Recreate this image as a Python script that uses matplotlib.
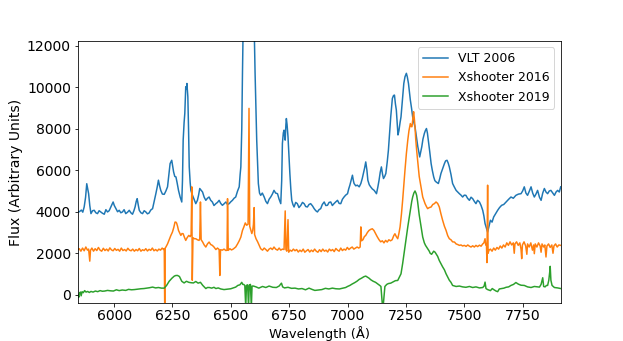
import numpy as np
import matplotlib
matplotlib.use("Agg")
import matplotlib.pyplot as plt

# VLT 2006
wl_vlt = [5845, 5851, 5860, 5866, 5872, 5878, 5883, 5887, 5891, 5896, 5901, 5908, 5915, 5922, 5929, 5936, 5943, 5950,
          5958, 5965, 5972, 5979, 5986, 5991, 5996, 6001, 6008, 6015, 6022, 6029, 6036, 6043, 6050, 6058, 6065, 6072,
          6079, 6085, 6090, 6095, 6099, 6104, 6108, 6115, 6122, 6129, 6136, 6143, 6150, 6157, 6165, 6172, 6179, 6185,
          6190, 6195, 6200, 6207, 6215, 6222, 6229, 6235, 6240, 6247, 6251, 6255, 6260, 6265, 6270, 6276, 6283, 6290,
          6293, 6296, 6300, 6303, 6307, 6310, 6312, 6316, 6319, 6322, 6326, 6329, 6334, 6339, 6345, 6350, 6357, 6362,
          6367, 6372, 6379, 6386, 6393, 6400, 6407, 6414, 6421, 6428, 6436, 6443, 6450, 6457, 6464, 6471, 6479, 6486,
          6493, 6500, 6507, 6514, 6521, 6529, 6536, 6540, 6543, 6547, 6550, 6554, 6560, 6570, 6580, 6590, 6600, 6604,
          6608, 6611, 6615, 6618, 6623, 6628, 6635, 6643, 6650, 6657, 6664, 6671, 6678, 6685, 6692, 6700, 6707, 6714,
          6718, 6721, 6725, 6728, 6731, 6733, 6736, 6738, 6741, 6745, 6749, 6753, 6757, 6761, 6766, 6771, 6778, 6785,
          6792, 6800, 6807, 6814, 6821, 6828, 6835, 6842, 6850, 6857, 6864, 6871, 6878, 6885, 6892, 6900, 6907, 6914,
          6921, 6928, 6935, 6942, 6950, 6957, 6964, 6971, 6978, 6985, 6992, 7000, 7005, 7010, 7015, 7021, 7025, 7028,
          7035, 7042, 7050, 7057, 7063, 7068, 7073, 7078, 7083, 7087, 7093, 7099, 7106, 7114, 7119, 7124, 7130, 7135,
          7140, 7145, 7150, 7154, 7159, 7164, 7170, 7175, 7180, 7185, 7189, 7192, 7197, 7201, 7205, 7209, 7213, 7216,
          7220, 7225, 7229, 7235, 7241, 7246, 7252, 7256, 7261, 7265, 7269, 7274, 7279, 7284, 7289, 7295, 7301, 7305,
          7309, 7314, 7318, 7323, 7329, 7333, 7338, 7342, 7346, 7352, 7358, 7363, 7369, 7374, 7379, 7384, 7389, 7395,
          7400, 7408, 7415, 7420, 7426, 7431, 7436, 7443, 7450, 7457, 7465, 7472, 7479, 7486, 7493, 7500, 7507, 7514,
          7522, 7529, 7536, 7543, 7550, 7557, 7565, 7572, 7579, 7584, 7589, 7594, 7600, 7606, 7612, 7619, 7626, 7634,
          7643, 7651, 7660, 7669, 7679, 7690, 7700, 7710, 7721, 7732, 7743, 7750, 7757, 7764, 7771, 7779, 7786, 7793,
          7800, 7807, 7814, 7822, 7829, 7836, 7843, 7850, 7857, 7864, 7871, 7879, 7886, 7893, 7900, 7907, 7913]
fx_vlt = [4000, 4000, 4080, 3980, 4230, 4700, 5350, 5100, 4870, 4300, 3910, 4050, 4070, 3950, 3910, 4050, 3990, 3930,
          3880, 4100, 3990, 4050, 4230, 4350, 4470, 4300, 4150, 4000, 4070, 3950, 3990, 4100, 3910, 3980, 4070, 3950,
          3880, 4050, 4230, 4500, 4630, 4300, 4070, 3950, 3910, 4050, 3990, 3900, 3940, 4080, 4150, 4500, 4870, 5200,
          5520, 5250, 5030, 4850, 4840, 5000, 5200, 5800, 6320, 6480, 6200, 5920, 5700, 5680, 5400, 5030, 4710, 4470,
          5500, 7450, 8300, 8740, 10020, 9900, 10180, 9540, 8000, 6160, 5400, 5030, 4850, 4710, 4550, 4390, 4550, 4800,
          5120, 5050, 4950, 4700, 4550, 4650, 4710, 4550, 4470, 4300, 4390, 4450, 4550, 4400, 4310, 4380, 4470, 4350,
          4390, 4480, 4550, 4650, 4710, 5000, 5200, 5800, 6160, 8000, 10670, 13500, 20000, 25000, 20000, 15000, 13000, 10670,
          8800, 7450, 6200, 5360, 4900, 4790, 4900, 4710, 4500, 4390, 4600, 4710, 4850, 5030, 4900, 4870, 4600, 4390,
          5500, 7290, 7800, 7930, 7600, 7450, 8200, 8490, 8200, 7610, 6700, 5840, 5100, 4550, 4350, 4230, 4450, 4390,
          4200, 4310, 4450, 4390, 4250, 4230, 4350, 4390, 4280, 4150, 4050, 3990, 4100, 4150, 4350, 4470, 4300, 4310,
          4450, 4470, 4300, 4390, 4480, 4550, 4400, 4390, 4600, 4710, 4800, 4870, 5100, 5280, 5500, 5760, 5500, 5360,
          5250, 5280, 5200, 5360, 5600, 5840, 6100, 6400, 6000, 5520, 5300, 5200, 5100, 5030, 4950, 4870, 5200, 5520,
          5900, 6160, 5800, 5600, 5700, 5840, 6400, 6960, 7800, 8570, 9100, 9460, 9600, 9620, 9200, 8900, 8200, 7700,
          7900, 8300, 8570, 9400, 10180, 10500, 10670, 10500, 10180, 9800, 9380, 9000, 8570, 8300, 8090, 7600, 7130, 6900,
          6640, 6900, 7130, 7500, 7770, 7900, 8010, 7800, 7450, 6900, 6320, 6000, 5680, 5500, 5440, 5400, 5360, 5600,
          5840, 6100, 6320, 6450, 6480, 6350, 6160, 5800, 5360, 5200, 5030, 4950, 4870, 4800, 4710, 4800, 4790, 4650,
          4550, 4700, 4630, 4500, 4390, 4550, 4470, 4300, 4070, 3800, 3430, 3250, 3020, 3300, 3590, 3500, 3750, 3900,
          4070, 4200, 4310, 4350, 4470, 4600, 4710, 4650, 4790, 4850, 4870, 5000, 5200, 4900, 4790, 5000, 5200, 4900,
          4710, 4850, 5030, 4700, 4550, 4900, 5120, 4950, 4870, 5000, 5030, 4900, 4790, 4950, 5030, 4950, 5200]

# Xshooter 2016
wl_x16 = [5845, 5851, 5858, 5865, 5872, 5879, 5886, 5891, 5896, 5899, 5905, 5912, 5919, 5926, 5933, 5940, 5947, 5954,
          5961, 5968, 5975, 5982, 5989, 5996, 6003, 6010, 6017, 6024, 6031, 6038, 6045, 6052, 6059, 6066, 6073, 6080,
          6087, 6094, 6101, 6108, 6115, 6122, 6129, 6136, 6143, 6150, 6157, 6164, 6171, 6178, 6185, 6192, 6199, 6206,
          6212, 6215, 6217, 6219, 6222, 6229, 6236, 6243, 6250, 6256, 6261, 6265, 6268, 6272, 6276, 6282, 6286, 6291,
          6296, 6301, 6307, 6313, 6320, 6326, 6330, 6333, 6335, 6338, 6344, 6350, 6357, 6364, 6367, 6370, 6373, 6379,
          6386, 6393, 6400, 6407, 6414, 6421, 6428, 6436, 6443, 6450, 6453, 6456, 6464, 6471, 6479, 6484, 6486, 6489,
          6496, 6503, 6510, 6517, 6521, 6529, 6536, 6543, 6550, 6556, 6562, 6568, 6574, 6578, 6581, 6586, 6590, 6594,
          6597, 6600, 6602, 6608, 6615, 6621, 6628, 6636, 6643, 6650, 6657, 6664, 6671, 6678, 6685, 6692, 6700, 6707,
          6714, 6721, 6728, 6733, 6736, 6740, 6745, 6748, 6754, 6761, 6768, 6775, 6782, 6789, 6796, 6803, 6810, 6817,
          6824, 6831, 6838, 6845, 6852, 6859, 6866, 6873, 6880, 6887, 6894, 6901, 6908, 6915, 6922, 6929, 6936, 6943,
          6950, 6957, 6964, 6971, 6978, 6985, 6992, 6999, 7006, 7013, 7020, 7027, 7034, 7041, 7048, 7054, 7057, 7060,
          7066, 7072, 7078, 7085, 7092, 7099, 7106, 7113, 7120, 7127, 7135, 7142, 7149, 7156, 7163, 7170, 7177, 7184,
          7191, 7198, 7203, 7209, 7215, 7220, 7225, 7231, 7236, 7241, 7246, 7252, 7258, 7263, 7269, 7273, 7276, 7280,
          7283, 7286, 7289, 7292, 7296, 7300, 7303, 7307, 7312, 7318, 7322, 7327, 7332, 7338, 7343, 7350, 7358, 7365,
          7372, 7379, 7386, 7393, 7400, 7407, 7415, 7422, 7429, 7436, 7443, 7450, 7458, 7465, 7472, 7479, 7486, 7493,
          7500, 7508, 7515, 7522, 7529, 7536, 7543, 7550, 7557, 7565, 7572, 7579, 7584, 7589, 7592, 7595, 7597, 7600,
          7602, 7606, 7612, 7619, 7626, 7633, 7640, 7647, 7654, 7661, 7668, 7675, 7682, 7689, 7696, 7703, 7710, 7714,
          7717, 7724, 7731, 7738, 7743, 7746, 7749, 7756, 7763, 7768, 7771, 7778, 7785, 7792, 7797, 7800, 7804, 7811,
          7818, 7825, 7829, 7833, 7840, 7845, 7850, 7854, 7861, 7868, 7875, 7880, 7884, 7891, 7898, 7905, 7913]
fx_x16 = [2180, 2220, 2100, 2250, 2120, 2300, 2150, 2200, 1620, 2140, 2250, 2100, 2220, 2130, 2280, 2150, 2100, 2240,
          2130, 2200, 2110, 2260, 2160, 2120, 2230, 2140, 2190, 2100, 2250, 2130, 2180, 2110, 2240, 2150, 2120, 2200,
          2100, 2180, 2120, 2230, 2100, 2170, 2130, 2220, 2110, 2190, 2140, 2250, 2120, 2180, 2110, 2200, 2150, 2250,
          2180, 2220, -800, 2250, 2300, 2450, 2650, 2850, 3020, 3250, 3500, 3500, 3450, 3300, 3100, 2950, 2860, 2950,
          2940, 2780, 2620, 2750, 2860, 2800, 2900, 5200, 700, 2750, 2700, 2700, 2650, 2620, 2700, 4470, 2650, 2550,
          2400, 2300, 2450, 2540, 2420, 2380, 2300, 2180, 2250, 2180, 930, 2170, 2150, 2200, 2130, 2150, 4630, 2140,
          2220, 2160, 2200, 2260, 2300, 2450, 2600, 2780, 3100, 3270, 3460, 3350, 3400, 8980, 3300, 3100, 2950, 3100,
          3400, 4200, 2900, 2700, 2550, 2400, 2220, 2150, 2250, 2180, 2100, 2200, 2250, 2180, 2300, 2200, 2150, 2250,
          2150, 2200, 2180, 4040, 2180, 2100, 3620, 2050, 2150, 2100, 2200, 2120, 2180, 2060, 2150, 2080, 2200, 2050,
          2120, 2180, 2060, 2150, 2080, 2200, 2100, 2050, 2170, 2080, 2200, 2100, 2150, 2060, 2200, 2120, 2180, 2080,
          2230, 2150, 2100, 2250, 2130, 2200, 2150, 2280, 2180, 2250, 2300, 2200, 2250, 2300, 2250, 2300, 3270, 2600,
          2650, 2800, 2860, 3000, 3100, 3150, 3180, 3100, 2950, 2800, 2650, 2550, 2600, 2500, 2620, 2540, 2650, 2600,
          2650, 2850, 2940, 2800, 2700, 2950, 3270, 3900, 4550, 5300, 6000, 6800, 7450, 7900, 8250, 8100, 8100, 8500,
          8820, 8500, 8090, 7500, 6960, 6500, 6160, 5700, 5360, 4950, 4710, 4550, 4390, 4250, 4150, 4200, 4230, 4350,
          4390, 4470, 4400, 4230, 3900, 3600, 3300, 3100, 2850, 2700, 2650, 2550, 2540, 2450, 2420, 2380, 2400, 2350,
          2380, 2330, 2400, 2340, 2300, 2360, 2300, 2380, 2320, 2390, 2340, 2450, 2500, 2700, 2400, 2420, 1550, 5280,
          2000, 2150, 2200, 2100, 2250, 2150, 2280, 2200, 2350, 2250, 2400, 2300, 2500, 2380, 2550, 2400, 2500, 2000,
          2450, 2550, 2380, 2500, 2200, 1740, 2400, 2550, 2350, 1950, 2450, 2300, 2500, 2150, 2400, 1980, 2450, 2300,
          2500, 2350, 2050, 2450, 2300, 2400, 1820, 2350, 2450, 2280, 2400, 2000, 2350, 2450, 2300, 2400, 2380]

# Xshooter 2019
wl_x19 = [5845, 5849, 5852, 5856, 5859, 5863, 5868, 5874, 5880, 5887, 5894, 5901, 5910, 5920, 5930, 5940, 5950, 5960,
          5972, 5985, 5997, 6010, 6022, 6035, 6050, 6062, 6075, 6087, 6100, 6115, 6128, 6140, 6152, 6165, 6178, 6190,
          6203, 6215, 6225, 6236, 6248, 6258, 6265, 6272, 6280, 6290, 6300, 6310, 6320, 6330, 6340, 6350, 6360, 6370,
          6380, 6393, 6400, 6408, 6418, 6428, 6436, 6446, 6457, 6471, 6486, 6500, 6510, 6521, 6530, 6539, 6547, 6551,
          6555, 6560, 6564, 6567, 6572, 6576, 6579, 6584, 6588, 6591, 6597, 6608, 6620, 6636, 6650, 6664, 6680, 6695,
          6707, 6717, 6722, 6730, 6745, 6760, 6775, 6790, 6805, 6820, 6835, 6850, 6860, 6875, 6890, 6905, 6920, 6935,
          6950, 6965, 6980, 6992, 7000, 7010, 7020, 7030, 7040, 7050, 7060, 7070, 7078, 7085, 7092, 7100, 7110, 7120,
          7130, 7138, 7143, 7147, 7150, 7153, 7156, 7160, 7168, 7175, 7185, 7195, 7205, 7215, 7222, 7229, 7236, 7244,
          7251, 7258, 7264, 7269, 7275, 7279, 7284, 7289, 7293, 7296, 7300, 7303, 7307, 7312, 7318, 7322, 7329, 7334,
          7343, 7350, 7354, 7360, 7369, 7375, 7379, 7386, 7393, 7400, 7407, 7415, 7422, 7429, 7436, 7443, 7450, 7465,
          7479, 7493, 7507, 7522, 7536, 7550, 7565, 7579, 7585, 7589, 7593, 7600, 7612, 7620, 7626, 7636, 7643, 7650,
          7660, 7670, 7679, 7690, 7700, 7711, 7721, 7732, 7743, 7757, 7771, 7786, 7800, 7814, 7822, 7829, 7836, 7840,
          7846, 7852, 7857, 7862, 7866, 7868, 7871, 7876, 7886, 7900, 7913]
fx_x19 = [0, -120, 80, 130, -50, 150, 100, 200, 130, 160, 110, 160, 130, 180, 150, 200, 170, 180,
          210, 190, 180, 240, 200, 230, 210, 260, 240, 250, 270, 290, 300, 320, 340, 370, 330, 350,
          320, 320, 450, 650, 800, 900, 930, 930, 880, 650, 570, 650, 600, 580, 570, 640, 560, 600,
          450, 300, 350, 350, 320, 360, 300, 330, 280, 250, 270, 290, 330, 370, 450, 480, 600, 500,
          500, 450, -600, 450, 480, -600, 460, 500, -600, 420, 420, 380, 320, 400, 350, 420, 360, 350,
          420, 560, 380, 330, 360, 310, 320, 280, 300, 240, 320, 250, 210, 230, 250, 310, 280, 320,
          290, 280, 320, 350, 400, 450, 520, 580, 650, 740, 800, 870, 900, 850, 800, 720, 650, 600,
          520, 450, 400, -200, -600, -500, -100, 400, 500, 540, 560, 620, 680, 690, 850, 1010, 1500, 2140,
          2700, 3270, 3700, 4070, 4500, 4710, 4900, 5000, 4900, 4790, 4500, 4230, 3850, 3500, 3100, 2780, 2500, 2380,
          2220, 2100, 2000, 1950, 2100, 2050, 1980, 1850, 1650, 1500, 1350, 1200, 1010, 850, 700, 600, 450, 400,
          420, 380, 360, 400, 350, 380, 330, 350, 420, 610, 300, 250, 200, 300, 250, 180, 150, 280,
          300, 320, 360, 380, 450, 500, 590, 510, 460, 450, 380, 350, 400, 380, 370, 500, 820, 400,
          380, 450, 450, 700, 1100, 1370, 700, 450, 350, 330, 300]

x_ticks = [6000, 6250, 6500, 6750, 7000, 7250, 7500, 7750]
y_ticks = [0, 2000, 4000, 6000, 8000, 10000, 12000]

fig, ax = plt.subplots(figsize=(623 / 72, 341 / 72), dpi=72)
ax.plot(wl_vlt, fx_vlt, lw=1.5, label="VLT 2006")
ax.plot(wl_x16, fx_x16, lw=1.5, label="Xshooter 2016")
ax.plot(wl_x19, fx_x19, lw=1.5, label="Xshooter 2019")

ax.set_xlim(5845, 7913)
ax.set_ylim(-420, 12230)
ax.set_xticks(x_ticks)
ax.set_yticks(y_ticks)
ax.tick_params(labelsize=14)
ax.tick_params(axis="x", pad=2.5)
ax.set_xlabel("Wavelength (Å)", fontsize=13)
ax.xaxis.set_label_coords(0.5, -0.086)
ax.set_ylabel("Flux (Arbitrary Units)", fontsize=14)
ax.legend(loc="upper right", fontsize=12.5)

fig.savefig("out.png", dpi=72)
